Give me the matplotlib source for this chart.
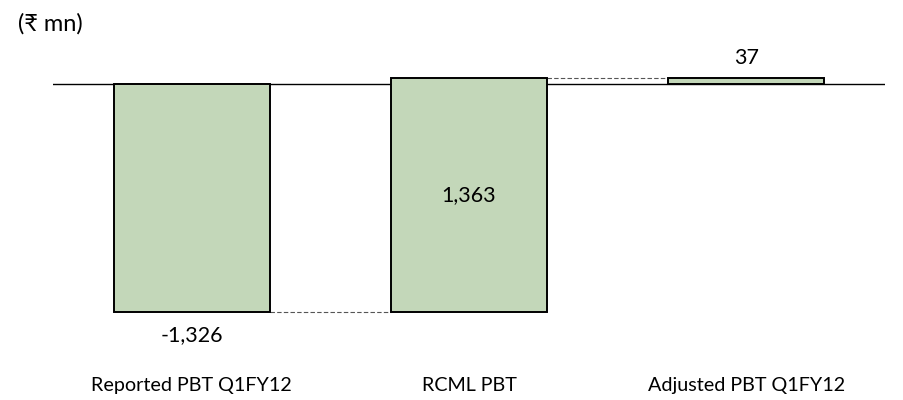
import numpy as np
import matplotlib.pyplot as plt

plt.rcParams['font.family'] = ['Lato', 'DejaVu Sans']

# PBT bridge, Rs mn
categories = ['Reported PBT Q1FY12', 'RCML PBT', 'Adjusted PBT Q1FY12']
changes = [-1326, 1363, 37]
labels = ['-1,326', '1,363', '37']

# floating bars: first and last start at zero, middle one bridges the gap
bottoms = [0, changes[0], 0]
heights = [changes[0], changes[1], changes[2]]

fig = plt.figure(figsize=(9.04, 4.0), dpi=100)
ax = fig.add_axes([53 / 904, 0, (885 - 53) / 904, 1])

x = np.arange(len(categories))
w = 0.563
ax.bar(x, heights, bottom=bottoms, width=w, color='#c3d7b9',
       edgecolor='black', linewidth=1.4, zorder=3)

# zero line
ax.axhline(0, color='black', linewidth=1.0, zorder=2)

# connectors between bars
lvl1 = changes[0]
lvl2 = changes[0] + changes[1]
ax.plot([x[0] + w / 2, x[1] - w / 2], [lvl1, lvl1], color='#555555',
        lw=0.8, dashes=(4, 2), zorder=2)
ax.plot([x[1] + w / 2, x[2] - w / 2], [lvl2, lvl2], color='#555555',
        lw=0.8, dashes=(4, 2), zorder=2)

# value labels
ax.text(x[0], lvl1 - 134, labels[0], ha='center', va='center', fontsize=15.5)
ax.text(x[1], (lvl1 + lvl2) / 2, labels[1], ha='center', va='center', fontsize=15.5)
ax.text(x[2], changes[2] + 114, labels[2], ha='center', va='center', fontsize=15.5)

# category names under the chart
for xi, c in zip(x, categories):
    ax.text(xi, -1756, c, ha='center', va='center', fontsize=14.2)

ax.set_xlim(-0.5, 2.5)
ax.set_ylim(-1838, 488)
ax.axis('off')

fig.text(18 / 904, 1 - 24 / 400, '(\u20b9 mn)', ha='left', va='center', fontsize=17)

fig.savefig('out.png', dpi=100)
